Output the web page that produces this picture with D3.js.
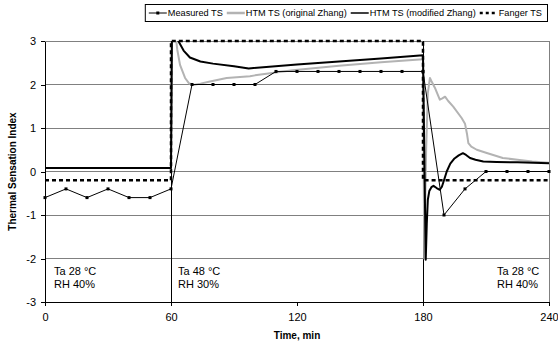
<!DOCTYPE html>
<html><head><meta charset="utf-8">
<script src="https://cdn.jsdelivr.net/npm/d3@7"></script>
<style>
body{margin:0;background:#fff;}
svg{display:block;font-family:Arial,"Liberation Sans",sans-serif;}
</style></head><body>
<svg id="c" width="558" height="343"></svg>
<script>
// ---- data ----
const measuredTime = [0,10,20,30,40,50,60,70,80,90,100,110,120,130,140,150,160,170,180,190,200,210,220,230,240];
const measuredTS = [-0.6,-0.4,-0.6,-0.4,-0.6,-0.6,-0.4,2.0,2.0,2.0,2.0,2.3,2.3,2.3,2.3,2.3,2.3,2.3,2.3,-1.0,-0.4,0.0,0.0,0.0,0.0];

const originalTime = [0,60,60.5,62,63,64.3,66.7,68.5,70.6,74,78.6,86.5,97.6,100,118,140,160,180,180.6,181.5,182.3,183.3,184.3,185.7,188,189.2,190.5,192,194.4,198.4,200,201,201.6,203,205.6,210,218,225,232,240];
const originalTS = [0.08,0.08,3.5,3.2,2.8,2.45,2.15,2.03,1.99,2.02,2.07,2.15,2.19,2.21,2.33,2.43,2.51,2.58,-2.0,0.5,1.8,2.15,2.05,1.92,1.65,1.68,1.72,1.62,1.49,1.23,1.1,0.85,0.65,0.57,0.5,0.43,0.31,0.27,0.23,0.2];

const modifiedTime = [0,60,60.5,62,63.5,66,69,74,80,90,97,120,140,160,180,181.3,181.8,182.3,183,184,185,186.5,188,189,190,191.3,193,195,197,199,200.5,202.4,205,208.7,215,225,240];
const modifiedTS = [0.08,0.08,3.6,3.3,3.0,2.78,2.62,2.53,2.48,2.42,2.37,2.46,2.53,2.6,2.67,-2.03,-1.2,-0.65,-0.45,-0.36,-0.33,-0.38,-0.42,-0.35,-0.2,0.0,0.18,0.3,0.37,0.42,0.38,0.31,0.27,0.23,0.22,0.21,0.19];

const fangerTime = [0,60,60,180,180,240];
const fangerTS = [-0.2,-0.2,3,3,-0.2,-0.2];

const boundaries = [60,180];
const xTicks = [0,60,120,180,240];
const yTicks = [-3,-2,-1,0,1,2,3];
const seriesNames = ["Measured TS","HTM TS (original Zhang)","HTM TS (modified Zhang)","Fanger TS"];
const conditions = [
  {t:0, lines:["Ta 28 °C","RH 40%"], anchor:"start"},
  {t:60, lines:["Ta 48 °C","RH 30%"], anchor:"start"},
  {t:240, lines:["Ta 28 °C","RH 40%"], anchor:"end"}
];

// ---- layout ----
const svg = d3.select("#c");
const L=45, R=549, T=41, B=302;
const x = d3.scaleLinear().domain([0,240]).range([L,R]);
const y = d3.scaleLinear().domain([-3,3]).range([B,T]);

svg.append("defs").append("clipPath").attr("id","clip")
  .append("rect").attr("x",L).attr("y",T).attr("width",R-L).attr("height",B-T);

// grid
svg.append("g").selectAll("line").data(yTicks.filter(d=>d>-3)).join("line")
  .attr("x1",L).attr("x2",R).attr("y1",d=>y(d)).attr("y2",d=>y(d))
  .attr("stroke","#808080").attr("stroke-width",1).attr("shape-rendering","crispEdges");
svg.append("line").attr("x1",R).attr("x2",R).attr("y1",T).attr("y2",B)
  .attr("stroke","#808080").attr("shape-rendering","crispEdges");

// boundaries
svg.append("g").selectAll("line").data(boundaries).join("line")
  .attr("x1",d=>x(d)).attr("x2",d=>x(d)).attr("y1",T).attr("y2",B)
  .attr("stroke","#000").attr("stroke-width",1).attr("shape-rendering","crispEdges");

// axes
const yAxis = svg.append("g").attr("transform",`translate(${L},0)`)
  .call(d3.axisLeft(y).tickValues(yTicks).tickFormat(d3.format("d")).tickSize(4).tickPadding(5).tickSizeOuter(0));
const xAxis = svg.append("g").attr("transform",`translate(0,${B})`)
  .call(d3.axisBottom(x).tickValues(xTicks).tickFormat(d3.format("d")).tickSize(4).tickPadding(7).tickSizeOuter(0));
[yAxis,xAxis].forEach(a=>{
  a.select(".domain").attr("stroke","#000").attr("shape-rendering","crispEdges");
  a.selectAll(".tick line").attr("stroke","#000").attr("shape-rendering","crispEdges");
  a.selectAll("text").attr("font-size",11).attr("font-family","Arial, 'Liberation Sans', sans-serif").attr("fill","#000");
});
yAxis.selectAll("text").text(d=>d<0 ? "-"+Math.abs(d) : d);

// titles
svg.append("text").attr("x",(L+R)/2).attr("y",339).attr("text-anchor","middle")
  .attr("font-size",10).attr("font-weight","bold").text("Time, min");
svg.append("text").attr("transform",`translate(16,${(T+B)/2}) rotate(-90)`).attr("text-anchor","middle")
  .attr("font-size",10).attr("font-weight","bold").text("Thermal Sensation Index");

// conditions
conditions.forEach(c=>{
  const tx = c.anchor==="start" ? x(c.t)+ (c.t===0?9:7) : 497;
  const g = svg.append("text").attr("font-size",11);
  c.lines.forEach((ln,i)=>{
    g.append("tspan").attr("x", tx).attr("y",275+i*13).text(ln);
  });
});

const line = d3.line().x(d=>x(d[0])).y(d=>y(d[1]));
const plot = svg.append("g").attr("clip-path","url(#clip)");

plot.append("path").datum(d3.zip(originalTime,originalTS)).attr("d",line)
  .attr("fill","none").attr("stroke","#b3b3b3").attr("stroke-width",2).attr("stroke-linejoin","round");
plot.append("path").datum(d3.zip(modifiedTime,modifiedTS)).attr("d",line)
  .attr("fill","none").attr("stroke","#000").attr("stroke-width",2).attr("stroke-linejoin","round");
svg.append("path").datum(d3.zip(measuredTime,measuredTS)).attr("d",line)
  .attr("fill","none").attr("stroke","#000").attr("stroke-width",1);
svg.append("g").selectAll("rect").data(d3.zip(measuredTime,measuredTS)).join("rect")
  .attr("x",d=>x(d[0])-1.5).attr("y",d=>y(d[1])-1.5).attr("width",3).attr("height",3).attr("fill","#000");
svg.append("path").datum(d3.zip(fangerTime,fangerTS)).attr("d",line)
  .attr("fill","none").attr("stroke","#000").attr("stroke-width",2.5).attr("stroke-dasharray","4,3");

// legend
const lg = svg.append("g");
const box = lg.append("rect").attr("y",4.5).attr("height",17).attr("fill","#fff").attr("stroke","#000").attr("stroke-width",1);
const items = lg.append("g");
let cx = 0;
const sw = 18, ly = 13;
seriesNames.forEach((name,i)=>{
  const st = [{c:"#000",w:1,d:null},{c:"#b3b3b3",w:2.5,d:null},{c:"#000",w:1.5,d:null},{c:"#000",w:2.5,d:"3,3"}][i];
  items.append("line").attr("x1",cx).attr("x2",cx+sw).attr("y1",ly).attr("y2",ly)
    .attr("stroke",st.c).attr("stroke-width",st.w).attr("stroke-dasharray",st.d);
  if(i===0) items.append("rect").attr("x",cx+sw/2-1.5).attr("y",ly-1.5).attr("width",3).attr("height",3).attr("fill","#000");
  const t = items.append("text").attr("x",cx+sw+1).attr("y",ly+3.3).attr("font-size",9.2).text(name);
  cx += sw + 1 + t.node().getComputedTextLength() + (i<3?4:3);
});
const boxRight = 548;
const start = boxRight - cx - 3;
items.attr("transform",`translate(${start},0)`);
box.attr("x",start-3.5).attr("width",cx+6);
</script>
</body></html>
